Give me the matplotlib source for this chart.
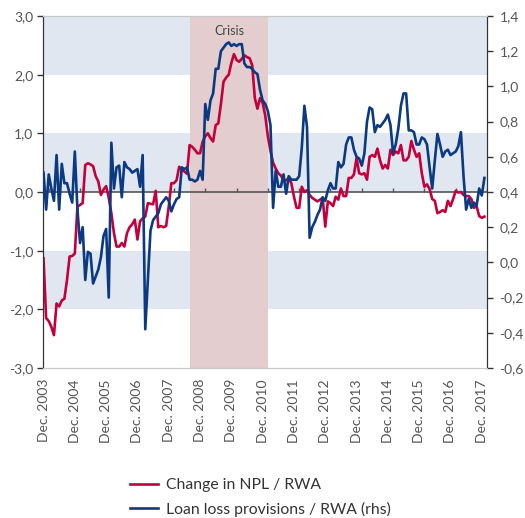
import matplotlib
matplotlib.use('Agg')
import matplotlib.pyplot as plt
from matplotlib.ticker import FuncFormatter, MultipleLocator
import numpy as np

plt.rcParams['font.family'] = ['Lato', 'DejaVu Sans']

# ── colours ─────────────────────────────────────────────────────────
RED = '#c4003c'
BLUE = '#0b3a82'
BAND = '#e1e7f1'
PINK = '#e3cdce'
INK = '#555555'

# ── data (monthly, starting Dec. 2003) ──────────────────────────────
years = list(range(2003, 2018))
tick_labels = [f'Dec. {y}' for y in years]

# change in NPL / RWA (lhs)
npl_change = [
    -1.13, -2.15, -2.20, -2.30, -2.44, -1.90, -1.95, -1.85, -1.82, -1.50,
    -1.10, -1.09, -1.05, -0.25, -0.22, -0.19, 0.46, 0.49, 0.47, 0.44,
    0.27, 0.18, -0.05, 0.04, 0.10, -0.10, -0.36, -0.70, -0.93, -0.93,
    -0.87, -0.93, -0.70, -0.60, -0.55, -0.47, -0.81, -0.50, -0.45, -0.42,
    -0.19, -0.20, -0.21, 0.02, -0.60, -0.58, -0.60, -0.58, -0.25, 0.15,
    0.15, 0.20, 0.43, 0.38, 0.35, 0.31, 0.80, 0.77, 0.72, 0.66,
    0.66, 0.86, 0.95, 1.00, 0.92, 0.86, 1.14, 1.17, 1.50, 1.88,
    1.95, 2.00, 2.20, 2.35, 2.25, 2.22, 2.27, 2.33, 2.30, 2.28,
    2.16, 1.60, 1.42, 1.60, 1.52, 1.30, 0.95, 0.70, 0.50, 0.40,
    0.32, 0.28, 0.20, 0.20, 0.24, 0.15, -0.08, -0.27, -0.27, 0.09,
    0.00, 0.03, -0.05, -0.10, -0.13, -0.16, -0.13, -0.10, -0.59, -0.16,
    -0.19, -0.24, -0.08, -0.13, 0.06, -0.07, -0.07, 0.24, 0.24, 0.30,
    0.58, 0.32, 0.30, 0.32, 0.21, 0.60, 0.63, 0.60, 0.74, 0.54,
    0.40, 0.46, 0.40, 0.72, 0.63, 0.69, 0.66, 0.80, 0.54, 0.54,
    0.60, 0.87, 0.72, 0.60, 0.66, 0.32, 0.09, 0.13, 0.05, -0.12,
    -0.15, -0.36, -0.34, -0.31, -0.34, -0.15, -0.24, -0.12, 0.02, -0.01,
    0.00, -0.05, -0.07, -0.07, -0.12, -0.27, -0.24, -0.41, -0.44, -0.42,
]

# loan loss provisions / RWA (rhs)
llp_rwa = [
    0.51, 0.30, 0.50, 0.42, 0.35, 0.61, 0.30, 0.56, 0.45, 0.45,
    0.39, 0.34, 0.63, 0.30, 0.11, 0.20, -0.10, 0.06, 0.05, -0.12,
    -0.08, -0.04, 0.03, 0.15, 0.19, -0.20, 0.68, 0.42, 0.54, 0.55,
    0.37, 0.57, 0.54, 0.53, 0.51, 0.52, 0.53, 0.43, 0.61, -0.38,
    -0.10, 0.18, 0.24, 0.26, 0.28, 0.33, 0.35, 0.37, 0.35, 0.29,
    0.33, 0.36, 0.37, 0.54, 0.53, 0.54, 0.47, 0.47, 0.46, 0.47,
    0.52, 0.47, 0.90, 0.81, 0.92, 0.96, 1.10, 1.10, 1.20, 1.22,
    1.24, 1.25, 1.23, 1.24, 1.23, 1.24, 1.24, 1.13, 1.11, 1.11,
    1.10, 1.08, 1.07, 0.98, 0.92, 0.90, 0.86, 0.78, 0.31, 0.52,
    0.43, 0.43, 0.50, 0.39, 0.49, 0.47, 0.47, 0.47, 0.49, 0.65,
    0.89, 0.77, 0.14, 0.20, 0.23, 0.27, 0.30, 0.37, 0.35, 0.41,
    0.45, 0.42, 0.42, 0.57, 0.54, 0.56, 0.67, 0.71, 0.71, 0.64,
    0.60, 0.59, 0.55, 0.62, 0.80, 0.88, 0.87, 0.74, 0.78, 0.77,
    0.79, 0.81, 0.84, 0.78, 0.62, 0.67, 0.76, 0.89, 0.96, 0.96,
    0.75, 0.75, 0.74, 0.67, 0.67, 0.71, 0.70, 0.67, 0.54, 0.42,
    0.58, 0.73, 0.67, 0.60, 0.63, 0.64, 0.61, 0.62, 0.63, 0.66,
    0.74, 0.49, 0.30, 0.36, 0.31, 0.34, 0.32, 0.42, 0.38, 0.48,
]

months = np.arange(len(npl_change))          # months since Dec. 2003
label_pos = np.arange(len(years)) * 12        # Dec of each year
crisis = (56.2, 86.1)

comma = FuncFormatter(lambda v, p: f'{v:.1f}'.replace('.', ','))

# ── figure ──────────────────────────────────────────────────────────
fig = plt.figure(figsize=(5.25, 5.18), dpi=100)
fig.patch.set_facecolor('white')
ax = fig.add_axes([43/525, 150/518, 444/525, 352/518])
ax.set_xlim(-0.2, 170)
ax.set_ylim(-3, 3)

# horizontal bands + crisis shading
for lo in (2, 0, -2):
    ax.axhspan(lo, lo + 1, color=BAND, lw=0, zorder=0)
ax.axvspan(*crisis, color=PINK, lw=0, zorder=1)
ax.text(sum(crisis)/2, 2.75, 'Crisis', ha='center', va='center',
        fontsize=9, color='#444444', zorder=5)

# zero line with small year ticks
ax.axhline(0, color='#555555', lw=1.2, zorder=2)
ax.vlines(label_pos + 2, 0, 0.07, color='#555555', lw=1.0, zorder=2)

ln1, = ax.plot(months, npl_change, color=RED, lw=1.9, zorder=3,
               label='Change in NPL / RWA')

ax2 = ax.twinx()
ax2.set_ylim(-0.6, 1.4)
ln2, = ax2.plot(months, llp_rwa, color=BLUE, lw=1.9, zorder=3,
                label='Loan loss provisions / RWA (rhs)')

# axes cosmetics
ax.yaxis.set_major_locator(MultipleLocator(1.0))
ax2.yaxis.set_major_locator(MultipleLocator(0.2))
ax.yaxis.set_major_formatter(comma)
ax2.yaxis.set_major_formatter(comma)
for a in (ax, ax2):
    a.tick_params(axis='y', direction='out', length=4, width=1,
                  color='#333333', labelsize=10, labelcolor=INK, pad=3)
    for s in ('top', 'bottom'):
        a.spines[s].set_color('#c8c8c8')
    for s in ('left', 'right'):
        a.spines[s].set_color('#333333')
ax2.tick_params(axis='y', pad=5)

ax.set_xticks(label_pos)
ax.set_xticklabels(tick_labels, rotation=90)
ax.tick_params(axis='x', length=0, pad=8, labelsize=10, labelcolor=INK)

fig.legend(handles=[ln1, ln2], loc='upper left',
           bbox_to_anchor=(130/525, 1 - 478/518), frameon=False,
           fontsize=11.3, handlelength=1.8, handletextpad=0.5,
           labelspacing=0.62, borderpad=0, borderaxespad=0,
           labelcolor='#333333')

plt.savefig('out.png', dpi=100, facecolor='white')
